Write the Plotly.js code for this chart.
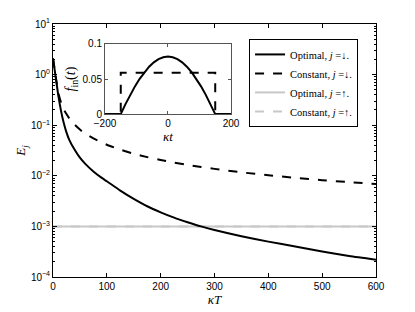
<!DOCTYPE html>
<html>
<head>
<meta charset="utf-8">
<script src="https://cdn.plot.ly/plotly-2.35.2.min.js"></script>
<style>html,body{margin:0;padding:0;background:#fff;}#chart{width:415px;height:312px;}</style>
</head>
<body>
<div id="chart"></div>
<script>
// Main plot data (E_j vs kappa T)
const kappaT = [0, 3, 6, 10, 15, 20, 25, 30, 40, 50, 60, 75, 90, 100, 125, 150, 175, 200, 225, 250, 275, 300, 350, 400, 450, 500, 550, 600];
const optimalDown = [2.1, 1.25, 0.75, 0.38, 0.19, 0.11, 0.072, 0.052, 0.033, 0.0228, 0.0172, 0.0122, 0.0092, 0.0078, 0.0051, 0.0035, 0.0025, 0.0019, 0.00149, 0.00121, 0.001, 0.00085, 0.00064, 0.0005, 0.0004, 0.00032, 0.00026, 0.00022];
const constantDown = [2.1, 1.3, 0.78, 0.43, 0.28, 0.205, 0.166, 0.138, 0.103, 0.082, 0.068, 0.055, 0.046, 0.041, 0.033, 0.0273, 0.0234, 0.0205, 0.0182, 0.0164, 0.0149, 0.0137, 0.0117, 0.0103, 0.0091, 0.0082, 0.0075, 0.0069];
const optimalUp = [0.001, 0.001, 0.001, 0.001, 0.001, 0.001, 0.001, 0.001, 0.001, 0.001, 0.001, 0.001, 0.001, 0.001, 0.001, 0.001, 0.001, 0.001, 0.001, 0.001, 0.001, 0.001, 0.001, 0.001, 0.001, 0.001, 0.001, 0.001];
const constantUp = optimalUp.slice();

// Axis ticks
const xTicks = [0, 100, 200, 300, 400, 500, 600];
const yTickVals = [1e-4, 1e-3, 1e-2, 1e-1, 1, 10];
const yTickText = ['10<sup>−4</sup>', '10<sup>−3</sup>', '10<sup>−2</sup>', '10<sup>−1</sup>', '10<sup>0</sup>', '10<sup>1</sup>'];

// Inset data (f_in(t) vs kappa t)
const insetT = [-200, -150, -135, -120, -105, -90, -75, -60, -45, -30, -15, 0, 15, 30, 45, 60, 75, 90, 105, 120, 135, 150, 200];
const insetOptimal = [0, 0, 0.0142, 0.0274, 0.0395, 0.0503, 0.0597, 0.0676, 0.0738, 0.0783, 0.0811, 0.082, 0.0811, 0.0783, 0.0738, 0.0676, 0.0597, 0.0503, 0.0395, 0.0274, 0.0142, 0, 0];
const insetConstT = [-200, -150, -150, 150, 150, 200];
const insetConstant = [0, 0, 0.059, 0.059, 0, 0];
const insetXTicks = [-200, 0, 200];
const insetXText = ['−200', '0', '200'];
const insetYTicks = [0, 0.05, 0.1];
const insetYText = ['0', '0.05', '0.1'];

const legendNames = ['Optimal, <i>j</i> =↓.', 'Constant, <i>j</i> =↓.', 'Optimal, <i>j</i> =↑.', 'Constant, <i>j</i> =↑.'];

const gray = '#c8c8c8';
const traces = [
  {x: kappaT, y: optimalUp, name: legendNames[2], mode: 'lines', line: {color: gray, width: 2}, showlegend: false},
  {x: kappaT, y: constantUp, name: legendNames[3], mode: 'lines', line: {color: gray, width: 2, dash: 'dash'}, showlegend: false},
  {x: kappaT, y: optimalDown, name: legendNames[0], mode: 'lines', line: {color: '#000', width: 2, shape: 'spline', smoothing: 0.6}},
  {x: kappaT, y: constantDown, name: legendNames[1], mode: 'lines', line: {color: '#000', width: 2, dash: 'dash', shape: 'spline', smoothing: 0.6}},
  {x: [null], y: [null], name: legendNames[2], mode: 'lines', line: {color: gray, width: 2}},
  {x: [null], y: [null], name: legendNames[3], mode: 'lines', line: {color: gray, width: 2, dash: 'dash'}},
  {x: insetT, y: insetOptimal, xaxis: 'x2', yaxis: 'y2', mode: 'lines', line: {color: '#000', width: 2}, showlegend: false},
  {x: insetConstT, y: insetConstant, xaxis: 'x2', yaxis: 'y2', mode: 'lines', line: {color: '#000', width: 2, dash: 'dash'}, showlegend: false}
];

const tickFont = {family: 'Liberation Sans, Arial, sans-serif', size: 10, color: '#000'};
const titleFont = {family: 'Liberation Serif, DejaVu Serif, serif', size: 13, color: '#000'};

const layout = {
  width: 415, height: 312,
  margin: {l: 53, r: 39, t: 24, b: 35},
  paper_bgcolor: '#fff', plot_bgcolor: '#fff',
  showlegend: true,
  legend: {
    x: 0.607, y: 0.941, xanchor: 'left', yanchor: 'top',
    bgcolor: '#fff', bordercolor: '#000', borderwidth: 1,
    font: {family: 'Liberation Serif, DejaVu Serif, serif', size: 10.5, color: '#000'},
    itemwidth: 30, traceorder: 'normal', tracegroupgap: 0
  },
  xaxis: {
    range: [0, 600], tickvals: xTicks,
    ticks: 'inside', ticklen: 4, tickcolor: '#000', showline: true, linecolor: '#000', linewidth: 1,
    mirror: 'ticks', showgrid: false, zeroline: false, tickfont: tickFont,
    title: {text: '<i>κT</i>', font: titleFont, standoff: 3}
  },
  yaxis: {
    type: 'log', range: [-4, 1], tickvals: yTickVals, ticktext: yTickText,
    ticks: 'inside', ticklen: 4, tickcolor: '#000', showline: true, linecolor: '#000', linewidth: 1,
    mirror: 'ticks', showgrid: false, zeroline: false, tickfont: tickFont,
    minor: {ticks: 'inside', ticklen: 2, dtick: 'D1', tickcolor: '#000', showgrid: false},
    title: {text: '<i>E<sub>j</sub></i>', font: titleFont, standoff: 2}
  },
  xaxis2: {
    domain: [0.161, 0.551], anchor: 'y2', range: [-200, 200], tickvals: insetXTicks, ticktext: insetXText,
    ticks: 'inside', ticklen: 3, tickcolor: '#555', showline: true, linecolor: '#555', linewidth: 1,
    mirror: 'ticks', showgrid: false, zeroline: false, tickfont: tickFont,
    title: {text: '<i>κt</i>', font: titleFont, standoff: 1}
  },
  yaxis2: {
    domain: [0.644, 0.921], anchor: 'x2', range: [0, 0.1], tickvals: insetYTicks, ticktext: insetYText,
    ticks: 'inside', ticklen: 3, tickcolor: '#555', showline: true, linecolor: '#555', linewidth: 1,
    mirror: 'ticks', showgrid: false, zeroline: false, tickfont: tickFont,
    title: {text: '<i>f</i><sub>in</sub>(<i>t</i>)', font: {family: 'Liberation Serif, DejaVu Serif, serif', size: 14, color: '#000'}, standoff: 3}
  }
};

Plotly.newPlot('chart', traces, layout, {staticPlot: true, displayModeBar: false});
</script>
</body>
</html>
